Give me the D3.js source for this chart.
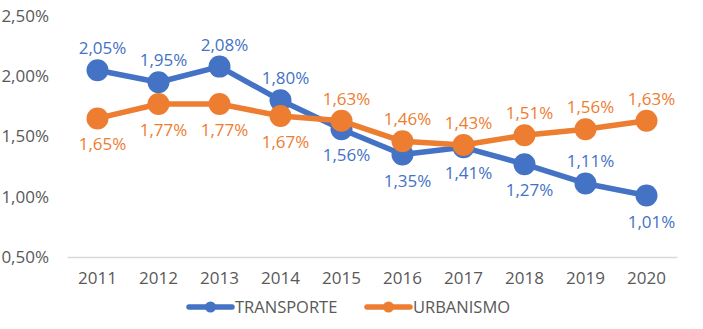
<!DOCTYPE html>
<html>
<head>
<meta charset="utf-8">
<script src="https://cdn.jsdelivr.net/npm/d3@7"></script>
<style>
  body { margin: 0; background: #fff; }
  text { font-family: "Open Sans", sans-serif; }
</style>
</head>
<body>
<div id="chart"></div>
<script>
// data
const years = ["2011", "2012", "2013", "2014", "2015", "2016", "2017", "2018", "2019", "2020"];
const transporte = [2.05, 1.95, 2.08, 1.80, 1.56, 1.35, 1.41, 1.27, 1.11, 1.01];
const urbanismo = [1.65, 1.77, 1.77, 1.67, 1.63, 1.46, 1.43, 1.51, 1.56, 1.63];
// label placement per point: true = above
const transporteAbove = [true, true, true, true, false, false, false, false, true, false];
const urbanismoAbove = [false, false, false, false, true, true, true, true, true, true];
const yTicks = [0.5, 1.0, 1.5, 2.0, 2.5];

const width = 703, height = 329;
const margin = {top: 16, right: 26, bottom: 72, left: 67};
const fontSize = "17px";

const svg = d3.select("#chart").append("svg")
  .attr("width", width)
  .attr("height", height);

const xscale = d3.scaleBand()
  .domain(years)
  .range([margin.left, width - margin.right]);

const yscale = d3.scaleLinear()
  .domain([0.5, 2.5])
  .range([height - margin.bottom, margin.top]);

const fmt = v => d3.format(".2f")(v).replace(".", ",") + "%";
const cx = d => xscale(d) + xscale.bandwidth() / 2;

// y axis labels (no line, no gridlines)
svg.append("g")
  .attr("transform", `translate(${margin.left},0)`)
  .call(d3.axisLeft(yscale).tickValues(yTicks).tickFormat(fmt).tickSize(0).tickPadding(18))
  .call(g => g.select(".domain").remove())
  .call(g => g.selectAll("text")
    .attr("fill", "#595959")
    .style("font-size", fontSize)
    .style("font-family", "Open Sans"));

// x axis
svg.append("g")
  .attr("transform", `translate(0,${height - margin.bottom})`)
  .call(d3.axisBottom(xscale).tickSize(0).tickPadding(15))
  .call(g => g.select(".domain").attr("stroke", "#d9d9d9").attr("stroke-width", 1.5))
  .call(g => g.selectAll("text")
    .attr("fill", "#595959")
    .style("font-size", fontSize)
    .style("font-family", "Open Sans"));

const line = d3.line()
  .x((d, i) => cx(years[i]))
  .y(d => yscale(d));

function drawSeries(values, color) {
  const g = svg.append("g");
  g.append("path")
    .datum(values)
    .attr("fill", "none")
    .attr("stroke", color)
    .attr("stroke-width", 5.5)
    .attr("stroke-linejoin", "round")
    .attr("d", line);
  g.selectAll("circle")
    .data(values)
    .join("circle")
    .attr("cx", (d, i) => cx(years[i]))
    .attr("cy", d => yscale(d))
    .attr("r", 11)
    .attr("fill", color);
  return g;
}

function drawLabels(values, color, above) {
  svg.append("g").selectAll("text")
    .data(values)
    .join("text")
    .attr("x", (d, i) => cx(years[i]) + 5)
    .attr("y", (d, i) => yscale(d) + (above[i] ? -16 : 32))
    .attr("text-anchor", "middle")
    .attr("fill", color)
    .style("font-size", fontSize)
    .text(d => fmt(d));
}

drawSeries(transporte, "#4472c4");
drawSeries(urbanismo, "#ed7d31");
drawLabels(transporte, "#4472c4", transporteAbove);
drawLabels(urbanismo, "#ed7d31", urbanismoAbove);

// legend
const legendItems = [
  {name: "TRANSPORTE", color: "#4472c4", x: 189},
  {name: "URBANISMO", color: "#ed7d31", x: 367}
];
const legend = svg.append("g").attr("transform", `translate(0,307)`);
legendItems.forEach(item => {
  legend.append("line")
    .attr("x1", item.x).attr("x2", item.x + 43)
    .attr("y1", 0).attr("y2", 0)
    .attr("stroke", item.color)
    .attr("stroke-width", 5.5)
    .attr("stroke-linecap", "round");
  legend.append("circle")
    .attr("cx", item.x + 21.5).attr("cy", 0)
    .attr("r", 5.5)
    .attr("fill", item.color);
  legend.append("text")
    .attr("x", item.x + 46).attr("y", 6)
    .attr("fill", "#595959")
    .style("font-size", "16.5px")
    .text(item.name);
});
</script>
</body>
</html>
